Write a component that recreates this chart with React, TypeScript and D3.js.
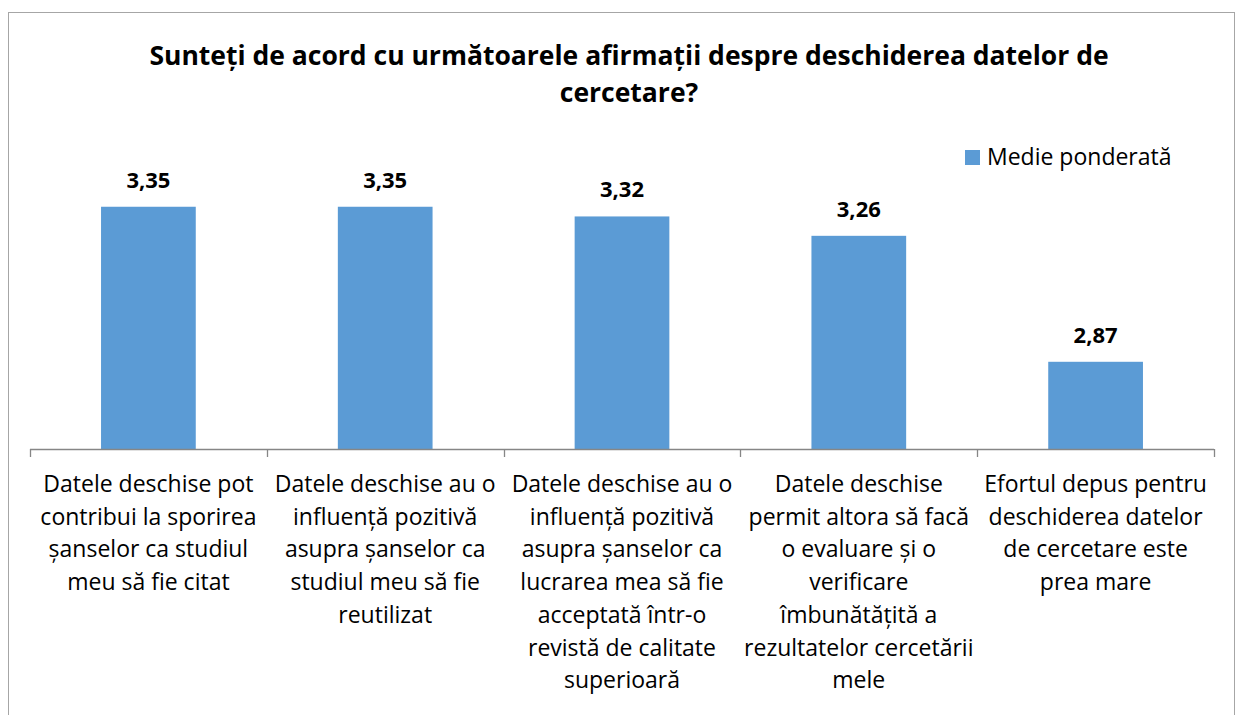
import * as d3 from 'd3';
import { useRef, useEffect } from 'react';

const titleLines = [
  'Sunteți de acord cu următoarele afirmații despre deschiderea datelor de',
  'cercetare?',
];
const seriesName = 'Medie ponderată';
const categories = [
  ['Datele deschise pot', 'contribui la sporirea', 'șanselor ca studiul', 'meu să fie citat'],
  ['Datele deschise au o', 'influență pozitivă', 'asupra șanselor ca', 'studiul meu să fie', 'reutilizat'],
  ['Datele deschise au o', 'influență pozitivă', 'asupra șanselor ca', 'lucrarea mea să fie', 'acceptată într-o', 'revistă de calitate', 'superioară'],
  ['Datele deschise', 'permit altora să facă', 'o evaluare și o', 'verificare', 'îmbunătățită a', 'rezultatelor cercetării', 'mele'],
  ['Efortul depus pentru', 'deschiderea datelor', 'de cercetare este', 'prea mare'],
];
const values = [3.35, 3.35, 3.32, 3.26, 2.87];

const FONT = '"Open Sans", sans-serif';

const App = () => {
  const ref = useRef<SVGSVGElement>(null);
  const width = 1245;
  const height = 715;
  const margin = { top: 190.6, right: 31, bottom: 266, left: 30 };

  useEffect(() => {
    const svg = d3.select(ref.current);
    svg.selectAll('*').remove();

    // chart border
    svg.append('rect')
      .attr('x', 8.5).attr('y', 12.5)
      .attr('width', 1226).attr('height', 720)
      .attr('fill', '#fff').attr('stroke', '#a6a6a6').attr('stroke-width', 1);

    const innerW = width - margin.left - margin.right;
    const innerH = height - margin.top - margin.bottom;

    const idx = categories.map((_, i) => String(i));
    const x = d3.scaleBand().domain(idx).range([0, innerW]).paddingInner(0.6).paddingOuter(0.3);
    const xb = d3.scaleBand().domain(idx).range([0, innerW]);
    const y = d3.scaleLinear().domain([2.6, 3.4]).range([innerH, 0]);

    const g = svg.append('g').attr('transform', `translate(${margin.left},${margin.top})`);

    // title
    svg.append('g').selectAll('text').data(titleLines).join('text')
      .attr('x', 629).attr('y', (_, i) => 65 + i * 37)
      .attr('text-anchor', 'middle')
      .style('font-family', FONT).style('font-weight', 'bold').style('font-size', '26.5px')
      .attr('fill', '#000')
      .text((d) => d);

    // bars
    g.selectAll('.bar').data(values).join('rect')
      .attr('class', 'bar')
      .attr('x', (_, i) => x(String(i))!)
      .attr('y', (d) => y(d))
      .attr('width', x.bandwidth())
      .attr('height', (d) => innerH - y(d))
      .attr('fill', '#5b9bd5');

    // data labels
    g.selectAll('.lbl').data(values).join('text')
      .attr('class', 'lbl')
      .attr('x', (_, i) => x(String(i))! + x.bandwidth() / 2)
      .attr('y', (d) => y(d) - 19)
      .attr('text-anchor', 'middle')
      .style('font-family', FONT).style('font-weight', 'bold').style('font-size', '22px')
      .text((d) => d.toFixed(2).replace('.', ','));

    // x axis
    const axis = g.append('g').attr('transform', `translate(0,${innerH})`);
    axis.append('line').attr('x1', 0).attr('x2', innerW).attr('y1', 0.5).attr('y2', 0.5)
      .attr('stroke', '#868686').attr('stroke-width', 1.3);
    axis.selectAll('.tick').data(d3.range(categories.length + 1)).join('line')
      .attr('class', 'tick')
      .attr('x1', (i) => Math.round(i * xb.bandwidth()) + 0.5)
      .attr('x2', (i) => Math.round(i * xb.bandwidth()) + 0.5)
      .attr('y1', 0).attr('y2', 8)
      .attr('stroke', '#868686').attr('stroke-width', 1.3);

    const labels = axis.selectAll('.cat').data(categories).join('text')
      .attr('class', 'cat')
      .attr('text-anchor', 'middle')
      .style('font-family', FONT).style('font-size', '23px')
      .attr('fill', '#000');
    labels.each(function (lines, i) {
      const t = d3.select(this);
      const cx = xb(String(i))! + xb.bandwidth() / 2;
      lines.forEach((ln, j) => {
        t.append('tspan').attr('x', cx).attr('y', 43 + j * 32.7).text(ln);
      });
    });

    // legend
    const leg = svg.append('g').attr('transform', 'translate(965,150)');
    leg.append('rect').attr('width', 15).attr('height', 15).attr('fill', '#5b9bd5');
    leg.append('text').attr('x', 22).attr('y', 15)
      .style('font-family', FONT).style('font-size', '23px')
      .text(seriesName);
  }, []);

  return (
    <svg ref={ref} width={width} height={height} style={{ position: 'absolute', left: 0, top: 0 }} />
  );
};

export default App;
